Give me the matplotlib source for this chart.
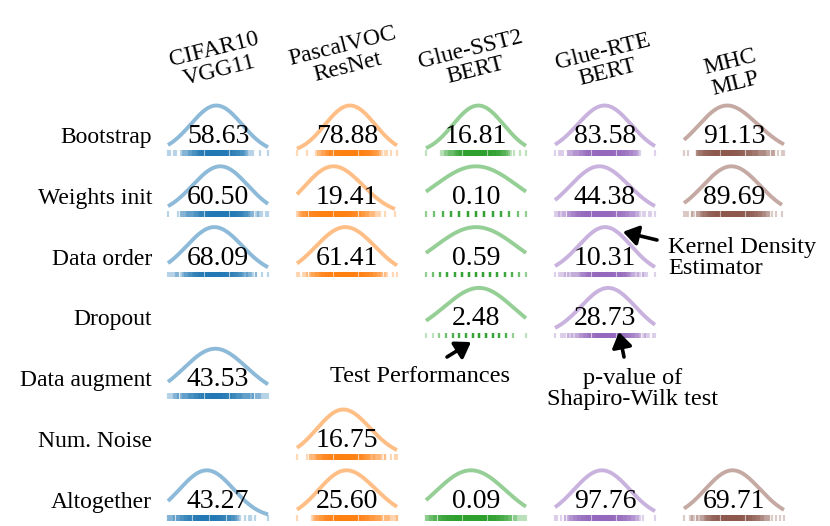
import numpy as np
import matplotlib.pyplot as plt

plt.rcParams['font.family'] = ['Liberation Serif', 'DejaVu Serif']

W, H = 830, 526

datasets = ['CIFAR10\nVGG11', 'PascalVOC\nResNet', 'Glue-SST2\nBERT', 'Glue-RTE\nBERT', 'MHC\nMLP']
sources = ['Bootstrap', 'Weights init', 'Data order', 'Dropout', 'Data augment', 'Num. Noise', 'Altogether']
colors = ['#1f77b4', '#ff7f0e', '#2ca02c', '#9467bd', '#8c564b']

# p-value of Shapiro-Wilk test (%) per source, one entry per dataset (None = not studied)
pval_bootstrap = [58.63, 78.88, 16.81, 83.58, 91.13]
pval_weights = [60.50, 19.41, 0.10, 44.38, 89.69]
pval_order = [68.09, 61.41, 0.59, 10.31, None]
pval_dropout = [None, None, 2.48, 28.73, None]
pval_augment = [43.53, None, None, None, None]
pval_noise = [None, 16.75, None, None, None]
pval_all = [43.27, 25.60, 0.09, 97.76, 69.71]

# test performances, binned across the normalised range of each cell:
# each digit = number of runs falling in that bin
rug_bootstrap = [
    '11011' '0' '122233' '44567889999999988776655443' '2111' '0010001',
    '100001' '00' '01223' '345667889999999998877665443' '211101' '001',
    '1000000' '112233' '345678899999999998877665443' '211' '001001',
    '10111' '0' '22233' '34456778899999999887766554433' '21000000' '1',
    '1010' '00' '3445667788999999988877' '6655544433332222' '01011',
]
rug_weights = [
    '1' '0000' '12223333' '445667889999999998877665443' '221211011',
    '1' '2344566778889999999998887766554433' '22211' '10' '1' '0000' '1' '0',
    '2357899987532',
    '11212' '23344566778899999999988776655443332' '211101101',
    '1110' '2122' '34456677889999999999887766554433' '221' '010010',
]
rug_order = [
    '1111' '2212' '33445667788999999988776655443' '232212' '001001',
    '11011' '22' '3344566778889999999998887766554433' '221' '00101',
    '235789999987532',
    '10111' '2212222' '3445677889999999887766543' '22121211' '0001',
    None,
]
rug_dropout = [
    None,
    None,
    '1123567899875201',
    '10011' '1212122' '33445667889999999887766554433' '21211011',
    None,
]
rug_augment = [
    '111' '22323334445566778899998877665544433332322' '21111',
    None, None, None, None,
]
rug_noise = [
    None,
    '1' '0000' '1222' '344566778899999998877665443' '2322212' '001011',
    None, None, None,
]
rug_all = [
    '2223334455' '66778899999988776655443' '210' '101101' '0000' '01',
    '1' '0000001' '233445667788999999888776' '65544433322221112',
    '2233445566778899999999999999998877665544332211111',
    '11010' '223344556677889999999988776655443322' '11000001',
    '1' '00' '1212122' '34456677889999999887766554433' '2221' '010101',
]

pvals = [pval_bootstrap, pval_weights, pval_order, pval_dropout, pval_augment, pval_noise, pval_all]
rugs = [rug_bootstrap, rug_weights, rug_order, rug_dropout, rug_augment, rug_noise, rug_all]


def rug_values(s):
    pos = np.linspace(0, 100, len(s))
    return np.repeat(pos, [int(c) for c in s])


def kde_curve(vals, bw_adjust=1.0):
    # gaussian KDE, Scott's rule, cut at the data range
    h = vals.std(ddof=1) * len(vals) ** (-0.2) * bw_adjust
    xs = np.linspace(vals.min(), vals.max(), 200)
    d = np.exp(-0.5 * ((xs[:, None] - vals[None, :]) / h) ** 2).sum(1)
    return xs, d / d.max()


fig = plt.figure(figsize=(W / 100, H / 100), dpi=100)

col_x = [219, 348, 477, 606, 735]
row_y0, row_step = 153, 60.8
px_per_unit = 47.5
ylo, yhi = -0.17, 1.11

cell_axes = {}
for i, src in enumerate(sources):
    rug_c = row_y0 + i * row_step
    fig.text(152 / W, 1 - (rug_c - 10) / H, src, ha='right', va='baseline', fontsize=17)
    for j in range(len(datasets)):
        s = rugs[i][j]
        if s is None:
            continue
        bottom = rug_c - ylo * px_per_unit
        ax = fig.add_axes([(col_x[j] - 53) / W, 1 - bottom / H,
                           106 / W, (yhi - ylo) * px_per_unit / H])
        ax.set_xlim(-2, 104)
        ax.set_ylim(ylo, yhi)
        ax.axis('off')
        vals = rug_values(s)
        xs, dens = kde_curve(vals, 3.0)
        ax.plot(xs, dens, color=colors[j], alpha=0.5, lw=2.8,
                solid_capstyle='butt', clip_on=False)
        ax.vlines(vals, -0.058, 0.058, color=colors[j], alpha=0.3, lw=1.6)
        ax.text(50, 0.21, f'{pvals[i][j]:.2f}', ha='center', va='baseline', fontsize=20)
        cell_axes[(i, j)] = ax

header_pos = [(217, 60), (345, 57), (473, 60), (605, 62), (733, 73)]
for name, (hx, hy) in zip(datasets, header_pos):
    fig.text(hx / W, 1 - hy / H, name, ha='center', va='center', rotation=14,
             fontsize=17, linespacing=1.05)

arrow = dict(arrowstyle='-|>,head_length=0.45,head_width=0.3', lw=2.6, color='black',
             mutation_scale=20, shrinkA=0, shrinkB=0)

ax = cell_axes[(2, 3)]
ax.annotate('', xy=(68, 0.9), xytext=(657, H - 240), textcoords='figure pixels',
            arrowprops=arrow, annotation_clip=False)
fig.text(668 / W, 1 - 258 / H, 'Kernel Density\nEstimator', ha='left', va='center',
         fontsize=17.5, linespacing=1.05)

ax = cell_axes[(3, 2)]
ax.annotate('', xy=(45, -0.14), xytext=(447, H - 357), textcoords='figure pixels',
            arrowprops=arrow, annotation_clip=False)
fig.text(420 / W, 1 - 377 / H, 'Test Performances', ha='center', va='center', fontsize=17.5)

ax = cell_axes[(3, 3)]
ax.annotate('', xy=(64, 0.07), xytext=(624, H - 357), textcoords='figure pixels',
            arrowprops=arrow, annotation_clip=False)
fig.text(633 / W, 1 - 389 / H, 'p-value of\nShapiro-Wilk test', ha='center', va='center',
         fontsize=17.5, linespacing=1.05)

fig.savefig('out.png', dpi=100)
